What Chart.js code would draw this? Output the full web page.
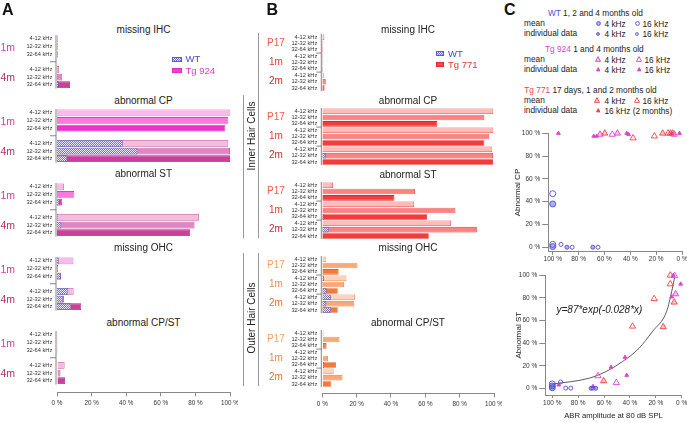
<!DOCTYPE html>
<html>
<head>
<meta charset="utf-8">
<script src="https://cdn.jsdelivr.net/npm/chart.js@4.4.0/dist/chart.umd.min.js"></script>
<style>
  body { margin: 0; background: #fff; font-family: "Liberation Sans", Arial, Helvetica, sans-serif; }
  #wrap { position: relative; width: 687px; height: 423px; overflow: hidden; }
  .t { position: absolute; white-space: nowrap; line-height: 1; color: #222; }
  canvas { position: absolute; }
  .ln { position: absolute; background: #999; }
</style>
</head>
<body>
<div id="wrap"></div>
<script>
// ---- shared labels ----
const freqs = ['4-12 kHz', '12-32 kHz', '32-64 kHz'];
const pctTicks = [0, 20, 40, 60, 80, 100];
const sectionTitles = ['missing IHC', 'abnormal CP', 'abnormal ST', 'missing OHC', 'abnormal CP/ST'];

// ---- panel A : Tg 924 vs WT, groups 1m / 4m (index 3 is the gap row) ----
const aGroups = ['1m', '4m'];
const aMissIhcTg = [0.4, 0.4, 0.4, null, 1.2, 3, 7.5];
const aMissIhcWt = [0.3, 0.3, 0.3, null, 0.3, 0.3, 1];
const aAbnCpTg = [99.8, 99, 97, null, 99, 100, 100];
const aAbnCpWt = [0, 0, 0, null, 38, 46.5, 6];
const aAbnStTg = [4, 10, 3, null, 82, 79.5, 77];
const aAbnStWt = [0, 0, 1.5, null, 0.5, 2.5, 0];
const aMissOhcTg = [9.5, 0.5, 2.3, null, 9.6, 4, 14];
const aMissOhcWt = [1, 0.5, 2.3, null, 6.5, 3.6, 8.3];
const aCpStTg = [0.5, 0.5, 0.5, null, 4.4, 2, 4.6];
const aCpStWt = [0.3, 0.3, 0.3, null, 0, 0, 0];

// ---- panel B : Tg 771 vs WT, groups P17 / 1m / 2m ----
const bGroups = ['P17', '1m', '2m'];
const bMissIhcTg = [1.2, 0.5, 0.5, 0.3, 0.3, 0.3, 0.8, 2, 1.3];
const bMissIhcWt = [null, null, null, 0.3, 0.3, 0.3, 0, 0, 0];
const bAbnCpTg = [99.6, 94.4, 67, 99.6, 97, 94.4, 99, 99.4, 99.4];
const bAbnCpWt = [null, null, null, 0, 0, 0, 0, 2, 0];
const bAbnStTg = [6.2, 54, 42, 53.5, 77.5, 61, 75, 90, 62];
const bAbnStWt = [null, null, null, 0, 0, 1, 0, 3.7, 0];
const bMissOhcTg = [2.3, 20.5, 9.5, 14, 12.6, 9, 19, 18.6, 9];
const bMissOhcWt = [null, null, null, 1, 0.5, 2.5, 5, 2.3, 5.2];
const bCpStTg = [0.8, 10, 2.5, 0.3, 3.3, 8, 6.6, 11.8, 5.2];
const bCpStWt = [null, null, null, 0.3, 0, 1, 0, 0, 0];

// ---- panel C : [ABR amplitude %, abnormal %] ----
// abnormal CP
const cpWtMean4k = [[100, 38], [100, 0.6]];
const cpWtMean16k = [[100, 47], [100, 2.5]];
const cpWtInd4k = [[89, 0], [69, 0]];
const cpWtInd16k = [[93.6, 2.5], [85, 0], [65, 0]];
const cpTg924Mean4k = [[63.4, 99], [50, 100]];
const cpTg924Mean16k = [[54, 99], [6, 99]];
const cpTg924Ind4k = [[68.3, 97.5], [42.8, 100], [2, 100]];
const cpTg924Ind16k = [[95.6, 100], [66, 97.5], [41.3, 99]];
const cpTg771Mean4k = [[59.8, 100], [15, 100], [9, 100]];
const cpTg771Mean16k = [[37.9, 95.8], [21.4, 97.5], [10.8, 100], [7.3, 100]];
const cpTg771Ind16k = [[8, 100]];
// abnormal ST
const stWtMean4k = [[100, 2.4], [100, 0.8]];
const stWtMean16k = [[100, 4.2]];
const stWtInd4k = [[70, 0.3], [66.5, 0.3]];
const stWtInd16k = [[93.6, 5.9], [89.6, 0.5], [85.7, 0.5], [68.5, 0.5]];
const stTg924Mean4k = [[4.7, 83.5]];
const stTg924Mean16k = [[64.7, 11.2], [50.5, 5.3], [5.5, 99.5]];
const stTg924Ind4k = [[43.8, 27.7], [54.6, 19], [0.8, 92.3], [68.5, 2]];
const stTg924Ind16k = [[95, 3.3], [42.5, 11.8], [7.7, 81], [6.5, 100]];
const stTg771Mean4k = [[14.3, 54.5], [5.8, 76.2], [60.3, 6.8]];
const stTg771Mean16k = [[8.8, 100], [8.8, 92.3], [21.3, 79.3], [38, 55]];
// fitted curve
const fitCurve = [[5.5, 98], [7.7, 85.9], [11.6, 68.3], [22.7, 50.3], [33, 35.6], [45.9, 23.8], [58.7, 15], [71.6, 9.2], [100, 4]];

Chart.defaults.font.family = '"Liberation Sans", Arial, Helvetica, sans-serif';
Chart.defaults.color = '#333';
Chart.defaults.animation = false;

const W = document.getElementById('wrap');

function txt(s, x, y, o = {}) {
  const d = document.createElement('div');
  d.className = 't';
  d.innerHTML = s;
  d.style.left = x + 'px';
  d.style.top = y + 'px';
  d.style.fontSize = (o.size || 10) + 'px';
  if (o.color) d.style.color = o.color;
  if (o.bold) d.style.fontWeight = 'bold';
  if (o.italic) d.style.fontStyle = 'italic';
  const ax = o.align === 'center' ? '-50%' : o.align === 'right' ? '-100%' : '0';
  d.style.transform = `translate(${ax},-50%)` + (o.rot ? ` rotate(${o.rot}deg)` : '');
  W.appendChild(d);
}

function line(x, y, w, h) {
  const d = document.createElement('div');
  d.className = 'ln';
  Object.assign(d.style, { left: x + 'px', top: y + 'px', width: w + 'px', height: h + 'px' });
  W.appendChild(d);
}

function mkCanvas(x, y, w, h) {
  const c = document.createElement('canvas');
  c.width = w; c.height = h;
  c.style.left = x + 'px'; c.style.top = y + 'px';
  c.style.width = w + 'px'; c.style.height = h + 'px';
  W.appendChild(c);
  return c;
}

function hatch(ctx) {
  const c = document.createElement('canvas');
  c.width = 2; c.height = 2;
  const g = c.getContext('2d');
  g.fillStyle = '#ececf4'; g.fillRect(0, 0, 2, 2);
  g.fillStyle = '#7676b4'; g.fillRect(0, 0, 1, 1); g.fillRect(1, 1, 1, 1);
  return ctx.createPattern(c, 'repeat');
}

// vertical axis pieces + little separator ticks between age groups
const axisLines = {
  id: 'axisLines',
  beforeDatasetsDraw(chart, args, o) {
    const { ctx, chartArea, scales: { y } } = chart;
    const x = chartArea.left - 1;
    const half = (y.getPixelForValue(1) - y.getPixelForValue(0)) / 2;
    ctx.save();
    ctx.strokeStyle = '#777';
    ctx.lineWidth = 0.9;
    ctx.beginPath();
    ctx.moveTo(x, y.getPixelForValue(0) - half);
    ctx.lineTo(x, y.getPixelForValue(o.last) + half);
    o.seps.forEach(v => {
      const py = y.getPixelForValue(v);
      ctx.moveTo(x - o.tick, py);
      ctx.lineTo(x, py);
    });
    ctx.stroke();
    ctx.restore();
  }
};

function barSection(c) {
  const labels = c.showX ? c.labels.concat(['']) : c.labels;
  const tg = c.showX ? c.tg.concat([null]) : c.tg;
  const wt = c.showX ? c.wt.concat([null]) : c.wt;
  const chartH = labels.length * c.band;
  const xH = c.showX ? c.xH : 0;
  const h = Math.ceil(chartH + xH);
  const cv = mkCanvas(c.left, c.first - c.band / 2, c.width, h);
  const ctx = cv.getContext('2d');
  new Chart(cv, {
    type: 'bar',
    data: {
      labels: labels,
      datasets: [
        { label: 'WT', data: wt, backgroundColor: hatch(ctx), borderColor: '#5a5ad2', borderWidth: 0.8,
          grouped: false, categoryPercentage: 1, barPercentage: 0.88 },
        { label: c.tgName, data: tg, backgroundColor: c.fills, borderColor: c.borders, borderWidth: 0.8,
          grouped: false, categoryPercentage: 1, barPercentage: 0.88 }
      ]
    },
    options: {
      indexAxis: 'y',
      responsive: false,
      devicePixelRatio: 1,
      layout: { padding: { top: 0, right: c.padR, bottom: h - chartH - xH, left: 0 } },
      plugins: {
        legend: { display: false },
        tooltip: { enabled: false },
        axisLines: { last: c.labels.length - 1, seps: c.seps, tick: c.tick }
      },
      scales: {
        x: {
          display: c.showX, min: 0, max: 100,
          afterBuildTicks: s => { s.ticks = pctTicks.map(v => ({ value: v })); },
          ticks: { callback: v => v + ' %', font: { size: 6.3 }, color: '#333', padding: 3, maxRotation: 0 },
          grid: { drawOnChartArea: false, tickLength: 4, color: '#888' },
          border: { color: '#888' },
          afterFit: s => { if (c.showX) s.height = c.xH; s.paddingLeft = 0; s.paddingRight = 0; }
        },
        y: {
          ticks: { font: { size: 5.7 }, color: '#333', padding: c.tickPad, autoSkip: false },
          grid: { display: false, drawTicks: false },
          border: { display: false },
          afterFit: s => { s.width = c.yW; s.paddingTop = 0; s.paddingBottom = 0; }
        }
      }
    },
    plugins: [axisLines]
  });
}

// ---------- panel A ----------
const aFill = ['#fbbaec', '#f77adf', '#ee30cf', null, '#f3bde0', '#e384c6', '#cc3d9c'];
const aLine = ['#e848cc', '#e040c8', '#d020b8', null, '#c8559e', '#bb4490', '#a82878'];
const aTg = [aMissIhcTg, aAbnCpTg, aAbnStTg, aMissOhcTg, aCpStTg];
const aWt = [aMissIhcWt, aAbnCpWt, aAbnStWt, aMissOhcWt, aCpStWt];
const aFirst = [39, 113, 187, 261, 335];
const aTitleY = [30, 101, 174, 248, 323];
const aBand = 7.65;
const aGroupColors = ['#dc3aa8', '#b4306e'];

aFirst.forEach((f, i) => {
  barSection({
    left: 0, width: 238, padR: 8, yW: 57, tickPad: 4.7, band: aBand, first: f,
    labels: [...freqs, '', ...freqs], tg: aTg[i], wt: aWt[i], tgName: 'Tg 924',
    fills: aFill, borders: aLine, seps: [3], tick: 6,
    showX: i === 4, xH: 20
  });
  txt(sectionTitles[i], 143.5, aTitleY[i], { size: 10, align: 'center' });
  aGroups.forEach((g, k) => {
    txt(g, 0.5, f + (k * 4 + 1) * aBand, { size: 10.5, color: aGroupColors[k] });
  });
});

// ---------- panel B ----------
const bIhcFill = ['#fdbcb8', '#fb8482', '#f43c3c'];
const bIhcLine = ['#ee4a46', '#ec3a3a', '#e02828'];
const bOhcFill = ['#fdd2b8', '#f9a878', '#f37a3a'];
const bOhcLine = ['#f08a52', '#ee7a40', '#e0662a'];
const bTg = [bMissIhcTg, bAbnCpTg, bAbnStTg, bMissOhcTg, bCpStTg];
const bWt = [bMissIhcWt, bAbnCpWt, bAbnStWt, bMissOhcWt, bCpStWt];
const bFirst = [36.7, 110.7, 184.7, 258.7, 332.7];
const bTitleY = [30, 101, 175, 248, 322.7];
const bBand = 6.35;
const bIhcGroupColors = ['#f25a50', '#e83a36', '#d42a2a'];
const bOhcGroupColors = ['#f5a26a', '#f18a4c', '#e8702e'];

bFirst.forEach((f, i) => {
  const ohc = i >= 3;
  const fl = ohc ? bOhcFill : bIhcFill;
  const bl = ohc ? bOhcLine : bIhcLine;
  barSection({
    left: 262, width: 240, padR: 8, yW: 60.3, tickPad: 5, band: bBand, first: f,
    labels: [...freqs, ...freqs, ...freqs], tg: bTg[i], wt: bWt[i], tgName: 'Tg 771',
    fills: [...fl, ...fl, ...fl], borders: [...bl, ...bl, ...bl], seps: [2.5, 5.5], tick: 5,
    showX: i === 4, xH: 20
  });
  txt(sectionTitles[i], 408, bTitleY[i], { size: 10, align: 'center' });
  bGroups.forEach((g, k) => {
    txt(g, 276, f + (k * 3 + 1) * bBand, { size: 10, align: 'center', color: (ohc ? bOhcGroupColors : bIhcGroupColors)[k] });
  });
});

// side brackets for hair cell types
line(242.5, 95, 1.2, 143);
line(258, 33, 1.2, 205);
line(242.5, 253, 1.2, 133);
line(258, 253, 1.2, 133);
txt('Inner Hair Cells', 251.5, 136, { size: 10, align: 'center', rot: -90 });
txt('Outer Hair Cells', 251.5, 318, { size: 10, align: 'center', rot: -90 });

// legends A and B
function swatch(x, y, w, h, bg, border) {
  const d = document.createElement('div');
  Object.assign(d.style, { position: 'absolute', left: x + 'px', top: (y - h / 2) + 'px', width: w + 'px', height: h + 'px',
    background: bg, border: '0.8px solid ' + border, boxSizing: 'border-box' });
  W.appendChild(d);
}
const checker = 'repeating-conic-gradient(#6a6ad0 0% 25%, #f0f0f8 0% 50%) 0 0/2px 2px';
swatch(172, 59, 10, 5, checker, '#5a5ad2');
swatch(172, 70, 10, 5, '#ee40cc', '#e030c0');
txt('WT', 185.5, 59, { size: 9.5, color: '#4848d0' });
txt('Tg 924', 185.5, 70.5, { size: 9.5, color: '#e838c8' });
swatch(436, 53.5, 7.5, 4.5, checker, '#5a5ad2');
swatch(436, 64.5, 7.5, 4.5, '#f04848', '#e03030');
txt('WT', 448, 53.5, { size: 9.5, color: '#4848d0' });
txt('Tg 771', 448, 64.5, { size: 9.5, color: '#e83838' });

// panel letters
txt('A', 2, 9.5, { size: 16, bold: true, color: '#111' });
txt('B', 266.5, 9.5, { size: 16, bold: true, color: '#111' });
txt('C', 504, 9.5, { size: 16, bold: true, color: '#111' });

// ---------- panel C legend ----------
function sym(kind, color, fill, x, y, s) {
  const d = document.createElement('div');
  const shape = kind === 'c'
    ? `<circle cx="${s / 2}" cy="${s / 2}" r="${s / 2 - 0.6}" fill="${fill}" stroke="${color}" stroke-width="0.9"/>`
    : `<polygon points="${s / 2},0.6 ${s - 0.5},${s - 0.6} 0.5,${s - 0.6}" fill="${fill}" stroke="${color}" stroke-width="0.9"/>`;
  d.innerHTML = `<svg width="${s}" height="${s}" viewBox="0 0 ${s} ${s}">${shape}</svg>`;
  Object.assign(d.style, { position: 'absolute', left: (x - s / 2) + 'px', top: (y - s / 2) + 'px', width: s + 'px', height: s + 'px', lineHeight: 0 });
  W.appendChild(d);
}
const wtC = '#4f4fd6', g924C = '#e040d4', g771C = '#ee4444';
const lf = 8.3;
txt('<span style="color:' + wtC + '">WT</span> 1, 2 and 4 months old', 548, 13, { size: lf });
txt('mean', 524, 23, { size: lf });
txt('individual data', 524, 33, { size: lf });
sym('c', wtC, 'rgba(79,79,214,0.45)', 598, 23, 5); txt('4 kHz', 604.5, 23.5, { size: lf });
sym('c', wtC, '#fff', 637, 23, 5); txt('16 kHz', 642.5, 23.5, { size: lf });
sym('c', wtC, 'rgba(79,79,214,0.45)', 598, 33, 4); txt('4 kHz', 604.5, 33.5, { size: lf });
sym('c', wtC, '#fff', 637, 33, 4); txt('16 kHz', 642.5, 33.5, { size: lf });

txt('<span style="color:' + g924C + '">Tg 924</span> 1 and 4 months old', 545, 49, { size: lf });
txt('mean', 524, 59, { size: lf });
txt('individual data', 524, 69, { size: lf });
sym('t', g924C, 'rgba(224,64,212,0.3)', 598, 59, 6); txt('4 kHz', 604.5, 59.5, { size: lf });
sym('t', g924C, '#fff', 639, 59, 6); txt('16 kHz', 644.5, 59.5, { size: lf });
sym('t', g924C, g924C, 598, 69, 4.5); txt('4 kHz', 604.5, 69.5, { size: lf });
sym('t', g924C, g924C, 639, 69, 4.5); txt('16 kHz', 644.5, 69.5, { size: lf });

txt('<span style="color:' + g771C + '">Tg 771</span> 17 days, 1 and 2 months old', 524.3, 90, { size: lf });
txt('mean', 524, 100, { size: lf });
txt('individual data', 524, 110, { size: lf });
sym('t', g771C, 'rgba(238,68,68,0.3)', 597, 100, 6); txt('4 kHz', 604.5, 100.5, { size: lf });
sym('t', g771C, '#fff', 637, 100, 6); txt('16 kHz', 642.5, 100.5, { size: lf });
sym('t', g771C, g771C, 598, 110, 4.5); txt('16 kHz (2 months)', 604.5, 110.5, { size: lf });

// ---------- panel C scatters ----------
function pts(arr) { return arr.map(p => ({ x: p[0], y: p[1] })); }
function dset(arr, style, color, fill, r) {
  return { data: pts(arr), pointStyle: style, pointRadius: r, pointBackgroundColor: fill,
    pointBorderColor: color, pointBorderWidth: 0.9, clip: false, showLine: false };
}

function scatter(c) {
  const cv = mkCanvas(c.left, c.top, c.width, c.height);
  new Chart(cv, {
    type: 'scatter',
    data: { datasets: c.datasets },
    options: {
      responsive: false,
      devicePixelRatio: 1,
      layout: { padding: { top: c.padT, right: c.padR, bottom: c.padB, left: 0 } },
      plugins: { legend: { display: false }, tooltip: { enabled: false } },
      scales: {
        x: {
          type: 'linear', reverse: true, min: 0, max: c.xMax,
          afterBuildTicks: s => { s.ticks = pctTicks.map(v => ({ value: v })); },
          ticks: { callback: v => v + ' %', font: { size: 6.5 }, color: '#333', padding: 1, maxRotation: 0 },
          grid: { drawOnChartArea: false, tickLength: 3, color: '#888' },
          border: { color: '#888', width: 1 },
          title: c.xTitle
            ? { display: true, text: c.xTitle, font: { size: 7.7 }, color: '#222', padding: { top: 0, bottom: 2.4 } }
            : { display: false },
          afterFit: s => { s.height = c.xH; s.paddingLeft = 0; s.paddingRight = 0; }
        },
        y: {
          min: c.yMin, max: 100,
          afterBuildTicks: s => { s.ticks = pctTicks.map(v => ({ value: v })); },
          ticks: { callback: v => v + ' %', font: { size: 6.5 }, color: '#333', padding: 2 },
          grid: { drawOnChartArea: false, tickLength: 6, color: '#888' },
          border: { color: '#888', width: 1 },
          title: { display: true, text: c.yTitle, font: { size: 8 }, color: '#222', padding: { top: c.yTitlePad, bottom: 0 } },
          afterFit: s => { s.width = c.yW; s.paddingTop = 0; s.paddingBottom = 0; }
        }
      }
    }
  });
}

scatter({
  left: 500, top: 125, width: 187, height: 139, padT: 8.3, padR: 4.3, padB: 0.2,
  xMax: 103.5, yMin: -4, xH: 12, yW: 48.2, yTitle: 'Abnormal CP', yTitlePad: 13.2,
  datasets: [
    dset(cpWtMean4k, 'circle', wtC, 'rgba(79,79,214,0.45)', 3),
    dset(cpWtMean16k, 'circle', wtC, 'rgba(255,255,255,0)', 3),
    dset(cpWtInd4k, 'circle', wtC, 'rgba(79,79,214,0.45)', 2),
    dset(cpWtInd16k, 'circle', wtC, 'rgba(255,255,255,0)', 2),
    dset(cpTg924Mean4k, 'triangle', g924C, 'rgba(224,64,212,0.3)', 3.6),
    dset(cpTg924Mean16k, 'triangle', g924C, 'rgba(255,255,255,0)', 3.6),
    dset(cpTg924Ind4k, 'triangle', g924C, g924C, 2.2),
    dset(cpTg924Ind16k, 'triangle', g924C, g924C, 2.2),
    dset(cpTg771Mean4k, 'triangle', g771C, 'rgba(238,68,68,0.3)', 3.6),
    dset(cpTg771Mean16k, 'triangle', g771C, 'rgba(255,255,255,0)', 3.6),
    dset(cpTg771Ind16k, 'triangle', g771C, g771C, 2.2)
  ]
});

scatter({
  left: 500, top: 268, width: 187, height: 155, padT: 7.3, padR: 5.3, padB: 0,
  xMax: 105.4, yMin: -5.6, xH: 28, yW: 45.3, yTitle: 'Abnormal ST', yTitlePad: 13.5,
  xTitle: 'ABR amplitude at 80 dB SPL',
  datasets: [
    dset(stWtMean4k, 'circle', wtC, 'rgba(79,79,214,0.45)', 3),
    dset(stWtMean16k, 'circle', wtC, 'rgba(255,255,255,0)', 3),
    dset(stWtInd4k, 'circle', wtC, 'rgba(79,79,214,0.45)', 2),
    dset(stWtInd16k, 'circle', wtC, 'rgba(255,255,255,0)', 2),
    dset(stTg924Mean4k, 'triangle', g924C, 'rgba(224,64,212,0.3)', 3.6),
    dset(stTg924Mean16k, 'triangle', g924C, 'rgba(255,255,255,0)', 3.6),
    dset(stTg924Ind4k, 'triangle', g924C, g924C, 2.2),
    dset(stTg924Ind16k, 'triangle', g924C, g924C, 2.2),
    dset(stTg771Mean4k, 'triangle', g771C, 'rgba(238,68,68,0.3)', 3.6),
    dset(stTg771Mean16k, 'triangle', g771C, 'rgba(255,255,255,0)', 3.6),
    { data: pts(fitCurve), showLine: true, pointRadius: 0, borderColor: '#333', borderWidth: 0.8,
      cubicInterpolationMode: 'monotone', clip: false }
  ]
});

txt('y=87*exp(-0.028*x)', 556.5, 310, { size: 10, italic: true });
</script>
</body>
</html>
